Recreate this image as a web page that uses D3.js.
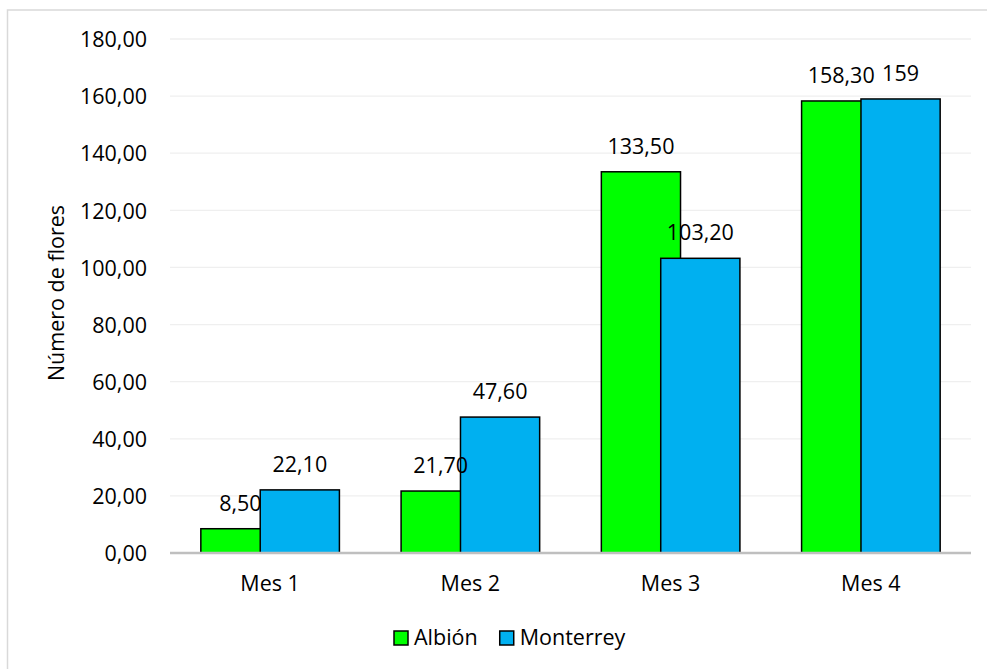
<!DOCTYPE html>
<html>
<head>
<meta charset="utf-8">
<script src="https://cdn.jsdelivr.net/npm/d3@7"></script>
<style>
  html, body { margin: 0; padding: 0; background: #fff; }
  svg { display: block; }
  text { font-family: "Open Sans", "Noto Sans", sans-serif; fill: #000; }
</style>
</head>
<body>
<svg id="chart" width="987" height="669"></svg>
<script>
// Flower counts per month for each variety
const categories = ["Mes 1", "Mes 2", "Mes 3", "Mes 4"];
const seriesNames = ["Albión", "Monterrey"];
const albion = [8.5, 21.7, 133.5, 158.3];
const monterrey = [22.1, 47.6, 103.2, 159];
const yTicks = [0, 20, 40, 60, 80, 100, 120, 140, 160, 180];
const seriesColors = ["#00ff00", "#00b0f0"];

const seriesValues = [albion, monterrey];

const svg = d3.select("#chart");
const W = 987, H = 669;
const plot = { left: 170, right: 971, top: 39, bottom: 553 };

// outer chart frame
svg.append("rect")
  .attr("x", 7.5).attr("y", 10)
  .attr("width", W + 20).attr("height", H + 20)
  .attr("fill", "none")
  .attr("stroke", "#d9d9d9")
  .attr("stroke-width", 1.5);

const y = d3.scaleLinear().domain([0, 180]).range([plot.bottom, plot.top]);

const x = d3.scaleBand()
  .domain(categories)
  .range([plot.left, plot.right])
  .paddingInner(0.308)
  .paddingOuter(0.154);

// bars overlap by a quarter of their width
const barW = x.bandwidth() / 1.75;
const xs = d3.scalePoint()
  .domain(seriesNames)
  .range([0, x.bandwidth() - barW]);

const fmt = v => Number.isInteger(v) ? String(v) : v.toFixed(2).replace(".", ",");
const tickFmt = v => v.toFixed(2).replace(".", ",");

// gridlines
svg.append("g")
  .selectAll("line")
  .data(yTicks.filter(t => t > 0))
  .join("line")
  .attr("x1", plot.left).attr("x2", plot.right)
  .attr("y1", d => y(d)).attr("y2", d => y(d))
  .attr("stroke", "#efefef")
  .attr("stroke-width", 1.3);

// y axis tick labels
const yAxis = d3.axisLeft(y).tickValues(yTicks).tickFormat(tickFmt).tickSize(0).tickPadding(0);
const yg = svg.append("g")
  .attr("transform", `translate(${plot.left - 23},0)`)
  .call(yAxis);
yg.select(".domain").remove();
yg.selectAll("text")
  .attr("font-size", "21.5px")
  .attr("font-family", "'Open Sans', sans-serif")
  .attr("fill", "#000")
  .attr("dy", "0.36em");

// bars
const rows = categories.map((c, i) => seriesNames.map((s, j) => ({ c, s, j, v: seriesValues[j][i] })));
const barG = svg.append("g");
seriesNames.forEach((s, j) => {
  barG.append("g")
    .selectAll("rect")
    .data(rows.map(r => r[j]))
    .join("rect")
    .attr("x", d => x(d.c) + xs(d.s))
    .attr("y", d => y(d.v))
    .attr("width", barW)
    .attr("height", d => y(0) - y(d.v))
    .attr("fill", seriesColors[j])
    .attr("stroke", "#000")
    .attr("stroke-width", 1.5);
});

// zero line
svg.append("line")
  .attr("x1", plot.left).attr("x2", plot.right)
  .attr("y1", y(0)).attr("y2", y(0))
  .attr("stroke", "#bfbfbf")
  .attr("stroke-width", 2.5);

// value labels
svg.append("g")
  .selectAll("text")
  .data(rows.flat())
  .join("text")
  .attr("x", d => x(d.c) + xs(d.s) + barW / 2)
  .attr("y", d => y(d.v) - 18)
  .attr("text-anchor", "middle")
  .attr("font-size", "21.5px")
  .text(d => fmt(d.v));

// x axis category labels
const xAxis = d3.axisBottom(x).tickSize(0).tickPadding(0);
const xg = svg.append("g")
  .attr("transform", `translate(0,${plot.bottom})`)
  .call(xAxis);
xg.select(".domain").remove();
xg.selectAll("text")
  .attr("font-size", "21.5px")
  .attr("font-family", "'Open Sans', sans-serif")
  .attr("fill", "#000")
  .attr("dy", null)
  .attr("y", 37.7);

// y axis title
svg.append("text")
  .attr("transform", `translate(64,${(plot.top + plot.bottom) / 2 - 3}) rotate(-90)`)
  .attr("text-anchor", "middle")
  .attr("font-size", "21.5px")
  .text("Número de flores");

// legend
const legend = svg.append("g");
let lx = 394;
const ly = 645;
seriesNames.forEach((s, j) => {
  legend.append("rect")
    .attr("x", lx).attr("y", ly - 14)
    .attr("width", 14).attr("height", 14)
    .attr("fill", seriesColors[j])
    .attr("stroke", "#000")
    .attr("stroke-width", 1.5);
  const t = legend.append("text")
    .attr("x", lx + 20).attr("y", ly)
    .attr("font-size", "21.5px")
    .text(s);
  lx += 20 + t.node().getComputedTextLength() + 22;
});
</script>
</body>
</html>
